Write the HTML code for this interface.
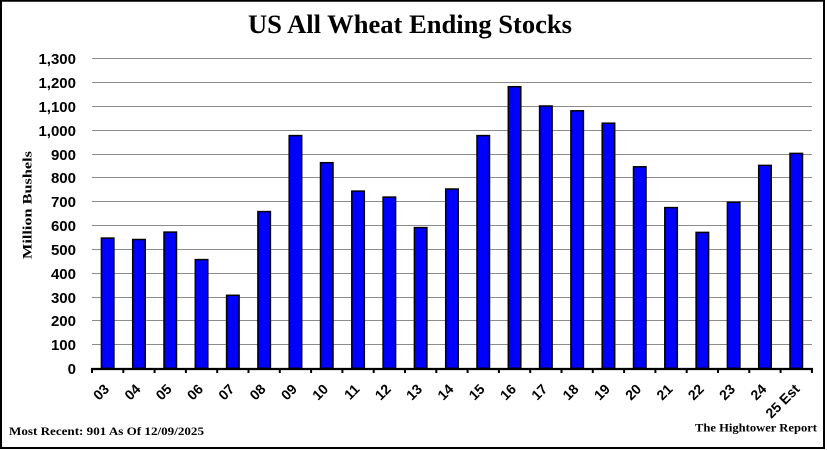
<!DOCTYPE html>
<html><head><meta charset="utf-8"><style>
html,body{margin:0;padding:0;background:#fff;}
svg{display:block;}
</style></head><body>
<svg width="827" height="450" viewBox="0 0 827 450" xmlns="http://www.w3.org/2000/svg">
<rect x="0" y="0" width="827" height="450" fill="#fff"/>
<rect x="1" y="0.75" width="823" height="447.25" fill="none" stroke="#000" stroke-width="2"/>
<text x="410" y="33" text-anchor="middle" font-family="Liberation Serif, serif" font-weight="bold" font-size="26" textLength="324" lengthAdjust="spacingAndGlyphs" fill="#000">US All Wheat Ending Stocks</text>
<g stroke="#8c8c8c" stroke-width="1">
<line x1="92" x2="812" y1="58.5" y2="58.5"/>
<line x1="92" x2="812" y1="82.5" y2="82.5"/>
<line x1="92" x2="812" y1="106.5" y2="106.5"/>
<line x1="92" x2="812" y1="130.5" y2="130.5"/>
<line x1="92" x2="812" y1="154.5" y2="154.5"/>
<line x1="92" x2="812" y1="177.5" y2="177.5"/>
<line x1="92" x2="812" y1="201.5" y2="201.5"/>
<line x1="92" x2="812" y1="225.5" y2="225.5"/>
<line x1="92" x2="812" y1="249.5" y2="249.5"/>
<line x1="92" x2="812" y1="273.5" y2="273.5"/>
<line x1="92" x2="812" y1="297.5" y2="297.5"/>
<line x1="92" x2="812" y1="320.5" y2="320.5"/>
<line x1="92" x2="812" y1="344.5" y2="344.5"/>
</g>
<g font-family="Liberation Sans, sans-serif" font-weight="bold" font-size="15" fill="#000" text-anchor="end">
<text x="76" y="64">1,300</text>
<text x="76" y="88">1,200</text>
<text x="76" y="112">1,100</text>
<text x="76" y="136">1,000</text>
<text x="76" y="160">900</text>
<text x="76" y="183">800</text>
<text x="76" y="207">700</text>
<text x="76" y="231">600</text>
<text x="76" y="255">500</text>
<text x="76" y="279">400</text>
<text x="76" y="303">300</text>
<text x="76" y="326">200</text>
<text x="76" y="350">100</text>
<text x="76" y="374">0</text>
</g>
<text transform="translate(31.5,205) rotate(-90)" text-anchor="middle" font-family="Liberation Serif, serif" font-weight="bold" font-size="13" textLength="108" lengthAdjust="spacingAndGlyphs" fill="#000">Million Bushels</text>
<g fill="#0000ff" stroke="#000" stroke-width="1.5">
<rect x="101.4" y="238.1" width="12.5" height="130.2"/>
<rect x="132.7" y="239.5" width="12.5" height="128.8"/>
<rect x="164.0" y="232.1" width="12.5" height="136.2"/>
<rect x="195.3" y="259.6" width="12.5" height="108.7"/>
<rect x="226.6" y="295.3" width="12.5" height="73.0"/>
<rect x="257.9" y="211.6" width="12.5" height="156.7"/>
<rect x="289.2" y="135.6" width="12.5" height="232.7"/>
<rect x="320.5" y="162.7" width="12.5" height="205.6"/>
<rect x="351.8" y="191.1" width="12.5" height="177.2"/>
<rect x="383.1" y="197.1" width="12.5" height="171.2"/>
<rect x="414.4" y="227.6" width="12.5" height="140.7"/>
<rect x="445.7" y="189.0" width="12.5" height="179.3"/>
<rect x="477.0" y="135.6" width="12.5" height="232.7"/>
<rect x="508.3" y="86.7" width="12.5" height="281.6"/>
<rect x="539.6" y="106.0" width="12.5" height="262.3"/>
<rect x="570.9" y="110.8" width="12.5" height="257.5"/>
<rect x="602.2" y="123.2" width="12.5" height="245.1"/>
<rect x="633.5" y="166.8" width="12.5" height="201.5"/>
<rect x="664.8" y="207.6" width="12.5" height="160.7"/>
<rect x="696.1" y="232.4" width="12.5" height="135.9"/>
<rect x="727.4" y="202.3" width="12.5" height="166.0"/>
<rect x="758.7" y="165.4" width="12.5" height="202.9"/>
<rect x="790.0" y="153.4" width="12.5" height="214.9"/>
</g>
<g stroke="#000" stroke-width="2">
<line x1="91" x2="813" y1="369" y2="369" stroke-width="2.2"/>
<line x1="92" x2="92" y1="368" y2="373"/>
<line x1="123.3" x2="123.3" y1="368" y2="373"/>
<line x1="154.6" x2="154.6" y1="368" y2="373"/>
<line x1="185.9" x2="185.9" y1="368" y2="373"/>
<line x1="217.2" x2="217.2" y1="368" y2="373"/>
<line x1="248.5" x2="248.5" y1="368" y2="373"/>
<line x1="279.8" x2="279.8" y1="368" y2="373"/>
<line x1="311.1" x2="311.1" y1="368" y2="373"/>
<line x1="342.4" x2="342.4" y1="368" y2="373"/>
<line x1="373.7" x2="373.7" y1="368" y2="373"/>
<line x1="405" x2="405" y1="368" y2="373"/>
<line x1="436.3" x2="436.3" y1="368" y2="373"/>
<line x1="467.6" x2="467.6" y1="368" y2="373"/>
<line x1="498.9" x2="498.9" y1="368" y2="373"/>
<line x1="530.2" x2="530.2" y1="368" y2="373"/>
<line x1="561.5" x2="561.5" y1="368" y2="373"/>
<line x1="592.8" x2="592.8" y1="368" y2="373"/>
<line x1="624.1" x2="624.1" y1="368" y2="373"/>
<line x1="655.4" x2="655.4" y1="368" y2="373"/>
<line x1="686.7" x2="686.7" y1="368" y2="373"/>
<line x1="718" x2="718" y1="368" y2="373"/>
<line x1="749.3" x2="749.3" y1="368" y2="373"/>
<line x1="780.6" x2="780.6" y1="368" y2="373"/>
<line x1="811.9" x2="811.9" y1="368" y2="373"/>
</g>
<g font-family="Liberation Sans, sans-serif" font-weight="bold" font-size="14" fill="#000" text-anchor="end">
<text transform="translate(110.05,390) rotate(-45)">03</text>
<text transform="translate(141.35,390) rotate(-45)">04</text>
<text transform="translate(172.65,390) rotate(-45)">05</text>
<text transform="translate(203.95,390) rotate(-45)">06</text>
<text transform="translate(235.25,390) rotate(-45)">07</text>
<text transform="translate(266.55,390) rotate(-45)">08</text>
<text transform="translate(297.85,390) rotate(-45)">09</text>
<text transform="translate(329.15,390) rotate(-45)">10</text>
<text transform="translate(360.45,390) rotate(-45)">11</text>
<text transform="translate(391.75,390) rotate(-45)">12</text>
<text transform="translate(423.05,390) rotate(-45)">13</text>
<text transform="translate(454.35,390) rotate(-45)">14</text>
<text transform="translate(485.65,390) rotate(-45)">15</text>
<text transform="translate(516.95,390) rotate(-45)">16</text>
<text transform="translate(548.25,390) rotate(-45)">17</text>
<text transform="translate(579.55,390) rotate(-45)">18</text>
<text transform="translate(610.85,390) rotate(-45)">19</text>
<text transform="translate(642.15,390) rotate(-45)">20</text>
<text transform="translate(673.45,390) rotate(-45)">21</text>
<text transform="translate(704.75,390) rotate(-45)">22</text>
<text transform="translate(736.05,390) rotate(-45)">23</text>
<text transform="translate(767.35,390) rotate(-45)">24</text>
<text transform="translate(800.5,390) rotate(-45)">25 Est</text>
</g>
<text x="9" y="435" font-family="Liberation Serif, serif" font-weight="bold" font-size="12" textLength="195" lengthAdjust="spacingAndGlyphs" fill="#000">Most Recent: 901 As Of 12/09/2025</text>
<text x="695" y="431.5" font-family="Liberation Serif, serif" font-weight="bold" font-size="12" textLength="122" lengthAdjust="spacingAndGlyphs" fill="#000">The Hightower Report</text>
</svg>
</body></html>
